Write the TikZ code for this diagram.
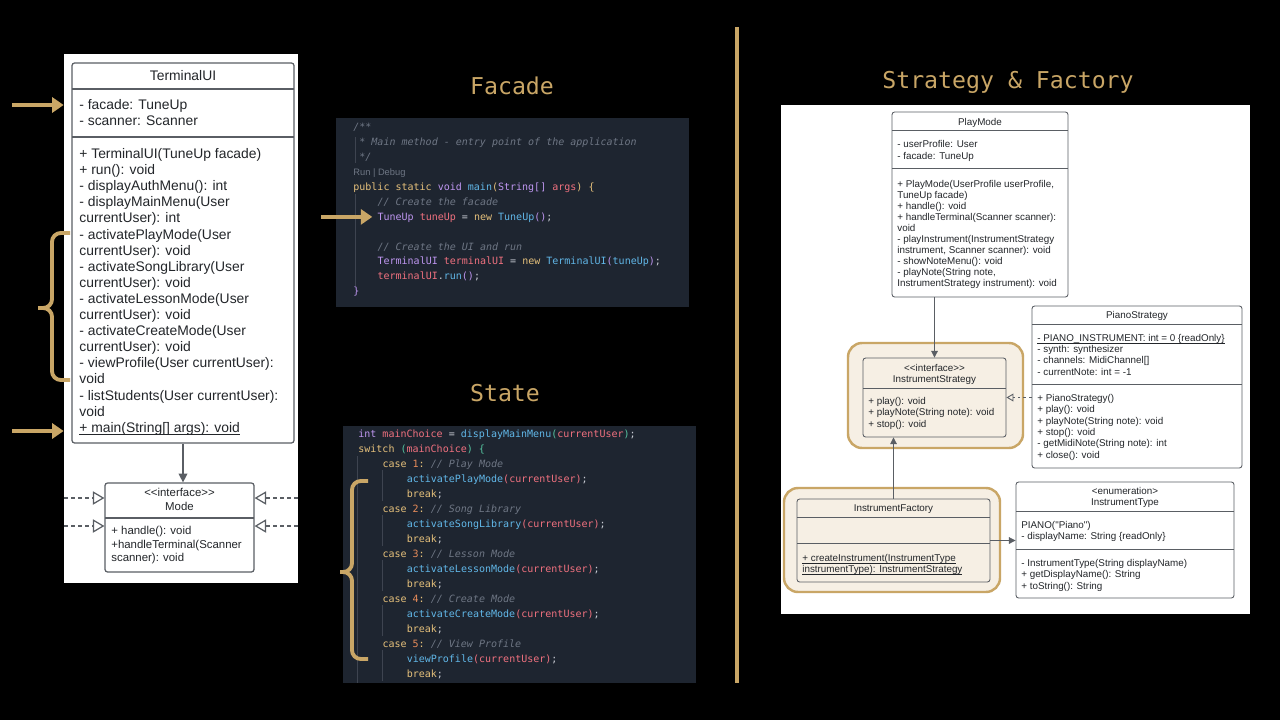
\documentclass[tikz,border=0pt]{standalone}
\usepackage{fontspec}
\newfontfamily\umlfont{Liberation Sans}
\setmonofont{DejaVu Sans Mono}
\usepackage{tikz}
\usetikzlibrary{arrows.meta,fit}

\definecolor{gold}{RGB}{201,166,102}
\definecolor{codebg}{RGB}{30,37,48}
\definecolor{umlline}{RGB}{90,94,100}
\definecolor{umltext}{RGB}{35,38,42}
\definecolor{hlfill}{RGB}{246,239,228}
\definecolor{ckw}{RGB}{229,192,123}
\definecolor{cty}{RGB}{190,150,240}
\definecolor{cva}{RGB}{240,113,127}
\definecolor{cfn}{RGB}{97,183,232}
\definecolor{ccm}{RGB}{110,118,132}
\definecolor{cpu}{RGB}{200,204,212}
\definecolor{cnu}{RGB}{232,140,90}
\definecolor{cbr}{RGB}{86,196,160}
\definecolor{cguide}{RGB}{62,68,80}

\newcommand\Kw[1]{\textcolor{ckw}{#1}}
\newcommand\Ty[1]{\textcolor{cty}{#1}}
\newcommand\Va[1]{\textcolor{cva}{#1}}
\newcommand\Fn[1]{\textcolor{cfn}{#1}}
\newcommand\Cm[1]{\textcolor{ccm}{\itshape #1}}
\newcommand\Pu[1]{\textcolor{cpu}{#1}}
\newcommand\Nu[1]{\textcolor{cnu}{#1}}
\newcommand\Br[1]{\textcolor{cbr}{#1}}
\newcommand\Ul[1]{\underline{\smash{#1}}}

\begin{document}
\begin{tikzpicture}[x=0.02cm,y=-0.02cm,
  every node/.style={inner sep=0pt},
  panel/.style={fill=white,draw=none},
  codebox/.style={fill=codebg,draw=none},
  umlbox/.style={draw=umlline,line width=0.7pt,rounded corners=1.5pt},
  smallbox/.style={draw=umlline,line width=0.5pt,rounded corners=1.5pt,fill=white},
  hlbox/.style={fill=hlfill,draw=gold,line width=1.4pt,rounded corners=8pt},
  umlsep/.style={draw=umlline,line width=0.7pt},
  smallsep/.style={draw=umlline,line width=0.5pt},
  tuitext/.style={anchor=base west,text=umltext,font=\umlfont\fontsize{7.9}{9.5}\selectfont},
  modetext/.style={anchor=base west,text=umltext,font=\umlfont\fontsize{6.5}{8}\selectfont},
  rtext/.style={anchor=base west,text=umltext,font=\umlfont\fontsize{5.6}{6.8}\selectfont},
  codeline/.style={anchor=base west,text=cpu,font=\ttfamily\fontsize{5.7}{7}\selectfont},
  headline/.style={anchor=base,text=gold,font=\ttfamily\fontsize{13.2}{15}\selectfont},
  goldarr/.style={draw=gold,line width=2.2pt,-{Triangle[length=6.5pt,width=8.5pt]}},
  goldbrace/.style={draw=gold,line width=2.2pt,rounded corners=5pt},
  assoc/.style={draw=umlline,line width=0.7pt,-{Triangle[length=5pt,width=5pt]}},
  rassoc/.style={draw=umlline,line width=0.5pt,-{Triangle[length=3.8pt,width=3.8pt]}},
  realize/.style={draw=umlline,line width=0.7pt,dash pattern=on 2pt off 2pt,-{Triangle[open,length=6.5pt,width=7.5pt]}},
  rrealize/.style={draw=umlline,line width=0.5pt,dash pattern=on 1.6pt off 1.6pt,-{Triangle[open,length=4pt,width=4.5pt]}},
  indentguide/.style={draw=cguide,line width=0.5pt}]

\fill[black] (0,0) rectangle (1280,720);
%\draw[very thin,gray] (0,0) grid[step=100] (1280,720);

% titles and divider
\node[headline] (tFacade) at (512,94.4) {Facade};
\node[headline] (tState) at (505,401.4) {State};
\node[headline] (tStrat) at (1008,88.4) {Strategy \& Factory};
\draw[gold,line width=2.3pt] (737,27) -- (737,683);

% ---------- left: TerminalUI / Mode
\node[panel,fit={(64,54) (298,583)}] (lpanel) {};
\node[umlbox,fit={(72,63) (294,443)}] (tui) {};
\draw[umlsep] (72,89) -- (294,89);
\draw[umlsep] (72,137) -- (294,137);
\node[tuitext,anchor=base] (tuiname) at (183,80.5) {TerminalUI};
\foreach \t [count=\i from 0] in {{- facade: TuneUp},{- scanner: Scanner}}
  \node[tuitext] (tui-a\i) at (79,{109.5+16*\i}) {\t};
\foreach \t [count=\i from 0] in {{+ TerminalUI(TuneUp facade)},{+ run(): void},
  {- displayAuthMenu(): int},{- displayMainMenu(User},{currentUser): int},
  {- activatePlayMode(User},{currentUser): void},{- activateSongLibrary(User},
  {currentUser): void},{- activateLessonMode(User},{currentUser): void},
  {- activateCreateMode(User},{currentUser): void},{- viewProfile(User currentUser):},
  void,{- listStudents(User currentUser):},void,{\Ul{+ main(String[] args): void}}}
  \node[tuitext] (tui-m\i) at (79,{158.5+16.1*\i}) {\t};

\node[umlbox,fit={(105,483) (254,572)}] (mode) {};
\draw[umlsep] (105,518) -- (254,518);
\node[modetext,anchor=base] (modest) at (179.5,496.7) {<<interface>>};
\node[modetext,anchor=base] (modename) at (179.5,510.7) {Mode};
\foreach \t [count=\i from 0] in {{+ handle(): void},{+handleTerminal(Scanner},{scanner): void}}
  \node[modetext] (mode-m\i) at (111,{534.7+13.5*\i}) {\t};

\draw[assoc] (tui.south) -- (tui.south |- mode.north);
\coordinate (mL1) at (64,498);
\coordinate (mL2) at (64,526);
\coordinate (mR1) at (298,498);
\coordinate (mR2) at (298,526);
\draw[realize] (mL1) -- (mL1 -| mode.west);
\draw[realize] (mL2) -- (mL2 -| mode.west);
\draw[realize] (mR1) -- (mR1 -| mode.east);
\draw[realize] (mR2) -- (mR2 -| mode.east);

\coordinate (gA) at (12,105);
\coordinate (gB) at (12,431);
\draw[goldarr] (gA) -- (gA -| lpanel.west);
\draw[goldarr] (gB) -- (gB -| lpanel.west);
\draw[goldbrace] (70,233) -- (52,233) -- (52,308) -- (38,308);
\draw[goldbrace] (38,308) -- (52,308) -- (52,380) -- (70,380);

% ---------- middle: Facade code
\node[codebox,fit={(336,118) (689,307)}] (fcode) {};
\draw[indentguide] (355,137) -- (355,163);
\draw[indentguide] (355,194) -- (355,286);
\node[anchor=base west,text=ccm,font=\umlfont\fontsize{5.3}{6}\selectfont] (rundbg) at (353,175.5) {Run | Debug};
\foreach \l/\i/\t in {0/0/{\Cm{/**}},
  0.25/1/{\Cm{* Main method - entry point of the application}},
  0.25/2/{\Cm{*/}},
  0/4/{\Kw{public static} \Ty{void} \Fn{main}\Kw{(}\Ty{String[]} \Va{args}\Kw{)} \Kw{\{}},
  1/5/{\Cm{// Create the facade}},
  1/6/{\Ty{TuneUp} \Va{tuneUp} \Pu{=} \Kw{new} \Fn{TuneUp}\Ty{()}\Pu{;}},
  1/8/{\Cm{// Create the UI and run}},
  1/9/{\Ty{TerminalUI} \Va{terminalUI} \Pu{=} \Kw{new} \Fn{TerminalUI}\Ty{(}\Fn{tuneUp}\Ty{)}\Pu{;}},
  1/10/{\Va{terminalUI}\Pu{.}\Fn{run}\Ty{()}\Pu{;}},
  0/11/{\Ty{\}}}}
  \node[codeline] (fc\i) at ({353+24.2*\l},{130.8+14.9*\i}) {\t};
\coordinate (gC) at (321,216.9);
\draw[goldarr,shorten >=2.8pt] (gC) -- (gC -| fc6.west);

% ---------- middle: State code
\node[codebox,fit={(343,426) (696,683)}] (scode) {};
\draw[indentguide] (357,456) -- (357,683);
\foreach \y in {470,515,560,605,650}
  \draw[indentguide] (382,\y) -- (382,\y+31);
\foreach \l/\t [count=\i from 0] in {0/{\Ty{int} \Va{mainChoice} \Pu{=} \Fn{displayMainMenu}\Br{(}\Va{currentUser}\Br{)}\Pu{;}},
  0/{\Kw{switch} \Br{(}\Va{mainChoice}\Br{)} \Br{\{}},
  1/{\Kw{case} \Nu{1}\Kw{:} \Cm{// Play Mode}},
  2/{\Fn{activatePlayMode}\Va{(currentUser)}\Pu{;}},
  2/{\Kw{break}\Pu{;}},
  1/{\Kw{case} \Nu{2}\Kw{:} \Cm{// Song Library}},
  2/{\Fn{activateSongLibrary}\Va{(currentUser)}\Pu{;}},
  2/{\Kw{break}\Pu{;}},
  1/{\Kw{case} \Nu{3}\Kw{:} \Cm{// Lesson Mode}},
  2/{\Fn{activateLessonMode}\Va{(currentUser)}\Pu{;}},
  2/{\Kw{break}\Pu{;}},
  1/{\Kw{case} \Nu{4}\Kw{:} \Cm{// Create Mode}},
  2/{\Fn{activateCreateMode}\Va{(currentUser)}\Pu{;}},
  2/{\Kw{break}\Pu{;}},
  1/{\Kw{case} \Nu{5}\Kw{:} \Cm{// View Profile}},
  2/{\Fn{viewProfile}\Va{(currentUser)}\Pu{;}},
  2/{\Kw{break}\Pu{;}}}
  \node[codeline] (st\i) at ({358+24.2*\l},{437.3+15*\i}) {\t};
\draw[goldbrace] (368,481) -- (352,481) -- (352,572) -- (340,572);
\draw[goldbrace] (340,572) -- (352,572) -- (352,659) -- (368,659);

% ---------- right: Strategy & Factory
\node[panel,fit={(781,105) (1250,614)}] (rpanel) {};
\node[hlbox,fit={(848,343) (1023,448)}] (hlStrat) {};
\node[hlbox,fit={(784,488) (1000,592)}] (hlFact) {};

\node[smallbox,fit={(892,112) (1068,297)}] (pm) {};
\draw[smallsep] (892,130) -- (1068,130);
\draw[smallsep] (892,168) -- (1068,168);
\node[rtext,anchor=base] (pmname) at (980,125.2) {PlayMode};
\foreach \t [count=\i from 0] in {{- userProfile: User},{- facade: TuneUp}}
  \node[rtext] (pm-a\i) at (897,{147.2+12*\i}) {\t};
\foreach \t [count=\i from 0] in {{+ PlayMode(UserProfile userProfile,},{TuneUp facade)},
  {+ handle(): void},{+ handleTerminal(Scanner scanner):},void,
  {- playInstrument(InstrumentStrategy},{instrument, Scanner scanner): void},
  {- showNoteMenu(): void},{- playNote(String note,},{InstrumentStrategy instrument): void}}
  \node[rtext] (pm-m\i) at (897,{187.2+11*\i}) {\t};

\node[smallbox,fill=hlfill,fit={(863,358) (1006,437)}] (istrat) {};
\draw[smallsep] (863,388) -- (1006,388);
\node[rtext,anchor=base] (istratst) at (934.5,371.2) {<<interface>>};
\node[rtext,anchor=base] (istratname) at (934.5,382.2) {InstrumentStrategy};
\foreach \t [count=\i from 0] in {{+ play(): void},{+ playNote(String note): void},{+ stop(): void}}
  \node[rtext] (istrat-m\i) at (868,{404.2+11.5*\i}) {\t};

\node[smallbox,fit={(1032,306) (1242,468)}] (piano) {};
\draw[smallsep] (1032,324) -- (1242,324);
\draw[smallsep] (1032,384) -- (1242,384);
\node[rtext,anchor=base] (pianoname) at (1137,318.2) {PianoStrategy};
\foreach \t [count=\i from 0] in {{\Ul{- PIANO\_INSTRUMENT: int = 0 \{readOnly\}}},
  {- synth: synthesizer},{- channels: MidiChannel[]},{- currentNote: int = -1}}
  \node[rtext] (piano-a\i) at (1037,{341.2+11.3*\i}) {\t};
\foreach \t [count=\i from 0] in {{+ PianoStrategy()},{+ play(): void},{+ playNote(String note): void},
  {+ stop(): void},{- getMidiNote(String note): int},{+ close(): void}}
  \node[rtext] (piano-m\i) at (1037,{401.2+11.4*\i}) {\t};

\node[smallbox,fill=hlfill,fit={(797,499) (990,582)}] (ifact) {};
\draw[smallsep] (797,517) -- (990,517);
\draw[smallsep] (797,543) -- (990,543);
\node[rtext,anchor=base] (ifactname) at (893.5,511.2) {InstrumentFactory};
\foreach \t [count=\i from 0] in {{\Ul{+ createInstrument(InstrumentType}},
  {\Ul{instrumentType): InstrumentStrategy}}}
  \node[rtext] (ifact-m\i) at (802,{561.2+11*\i}) {\t};

\node[smallbox,fit={(1016,482) (1234,598)}] (itype) {};
\draw[smallsep] (1016,511) -- (1234,511);
\draw[smallsep] (1016,549) -- (1234,549);
\node[rtext,anchor=base] (itypest) at (1125,494.2) {<enumeration>};
\node[rtext,anchor=base] (itypename) at (1125,505.2) {InstrumentType};
\foreach \t [count=\i from 0] in {{PIANO("Piano")},{- displayName: String \{readOnly\}}}
  \node[rtext] (itype-a\i) at (1021,{528.2+11*\i}) {\t};
\foreach \t [count=\i from 0] in {{- InstrumentType(String displayName)},
  {+ getDisplayName(): String},{+ toString(): String}}
  \node[rtext] (itype-m\i) at (1021,{566.2+11.5*\i}) {\t};

\draw[rassoc] (istrat.north |- pm.south) -- (istrat.north);
\draw[rassoc] (ifact.north) -- (ifact.north |- istrat.south);
\draw[rrealize] (piano.west |- istrat.east) -- (istrat.east);
\draw[rassoc] (ifact.east) -- (itype.west |- ifact.east);
\end{tikzpicture}
\end{document}
